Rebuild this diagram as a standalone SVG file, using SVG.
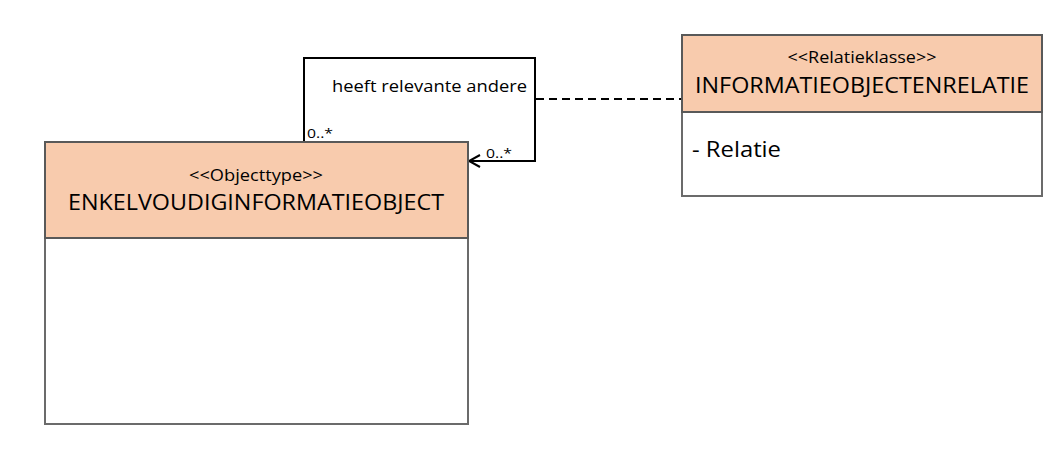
<svg xmlns="http://www.w3.org/2000/svg" width="1060" height="473" viewBox="0 0 1060 473">
<defs>
<style>
.box{fill:#ffffff;stroke:#6b6b6b;stroke-width:2}
.hdr{fill:#f8cbad;stroke:#595959;stroke-width:2}
.t{font-family:"Open Sans","Liberation Sans",sans-serif;fill:#000}
.conn{fill:none;stroke:#000;stroke-width:2}
</style>
<marker id="open" markerWidth="14" markerHeight="14" refX="12" refY="7" orient="auto" markerUnits="userSpaceOnUse">
<path d="M1,1 L12,7 L1,13" fill="none" stroke="#000" stroke-width="2"/>
</marker>
</defs>
<rect width="1060" height="473" fill="#fff"/>
<g id="connectors">
<path class="conn" d="M304,142 L304,58 L535,58 L535,161 L469,161" marker-end="url(#open)"/>
<line class="conn" x1="536" y1="99" x2="682" y2="99" stroke-dasharray="8,5"/>
<text class="t" x="332" y="92" font-size="15.5" textLength="195" lengthAdjust="spacingAndGlyphs">heeft relevante andere</text>
<text class="t" x="307" y="138" font-size="13" textLength="26" lengthAdjust="spacingAndGlyphs">0..*</text>
<text class="t" x="486" y="158" font-size="13" textLength="26" lengthAdjust="spacingAndGlyphs">0..*</text>
</g>
<g id="enkelvoudiginformatieobject">
<rect class="box" x="45" y="142" width="423" height="282"/>
<rect class="hdr" x="45" y="142" width="423" height="96"/>
<text class="t" x="256" y="181" font-size="16" text-anchor="middle" textLength="134" lengthAdjust="spacingAndGlyphs">&lt;&lt;Objecttype&gt;&gt;</text>
<text class="t" x="256" y="210" font-size="21" text-anchor="middle" textLength="376" lengthAdjust="spacingAndGlyphs">ENKELVOUDIGINFORMATIEOBJECT</text>
</g>
<g id="informatieobjectenrelatie">
<rect class="box" x="682" y="35" width="360" height="161"/>
<rect class="hdr" x="682" y="35" width="360" height="77"/>
<text class="t" x="862" y="63" font-size="16" text-anchor="middle" textLength="149" lengthAdjust="spacingAndGlyphs">&lt;&lt;Relatieklasse&gt;&gt;</text>
<text class="t" x="862" y="93" font-size="21" text-anchor="middle" textLength="334" lengthAdjust="spacingAndGlyphs">INFORMATIEOBJECTENRELATIE</text>
<text class="t" x="692" y="157" font-size="22" textLength="89" lengthAdjust="spacingAndGlyphs">- Relatie</text>
</g>
</svg>
